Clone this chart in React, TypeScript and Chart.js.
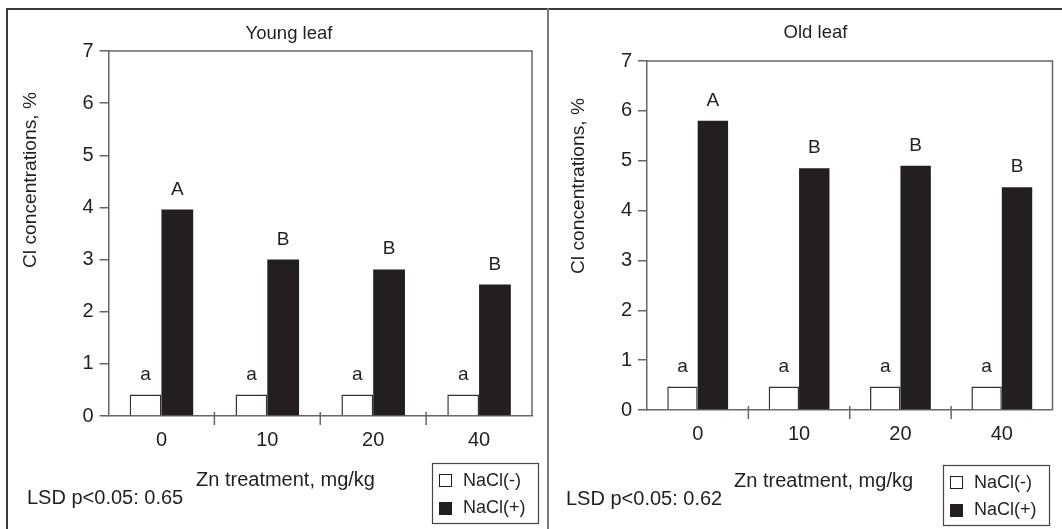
import React, { useEffect, useRef } from "react";
import { Chart, registerables } from "chart.js";

Chart.register(...registerables);

// ---------- data ----------
const categories = ["0", "10", "20", "40"];
const seriesLabels = ["NaCl(-)", "NaCl(+)"];
const youngNaclMinus = [0.41, 0.41, 0.41, 0.41];
const youngNaclPlus = [3.96, 3.0, 2.81, 2.52];
const oldNaclMinus = [0.47, 0.47, 0.47, 0.47];
const oldNaclPlus = [5.8, 4.85, 4.9, 4.47];
const youngMinusLetters = ["a", "a", "a", "a"];
const youngPlusLetters = ["A", "B", "B", "B"];
const oldMinusLetters = ["a", "a", "a", "a"];
const oldPlusLetters = ["A", "B", "B", "B"];
const yTickValues = [0, 1, 2, 3, 4, 5, 6, 7];
const panelTitles = ["Young leaf", "Old leaf"];
const lsdLabels = ["LSD p<0.05: 0.65", "LSD p<0.05: 0.62"];
const xAxisTitle = "Zn treatment, mg/kg";
const yAxisTitle = "Cl concentrations, %";

// ---------- style / layout ----------
const FONT = '"Liberation Sans", Arial, sans-serif';
const INK = "#231f20";
const AXIS = "#666666";
const X_SCALE_H = 40;

const panels = [
  {
    minus: youngNaclMinus,
    plus: youngNaclPlus,
    minusLetters: youngMinusLetters,
    plusLetters: youngPlusLetters,
    title: panelTitles[0],
    lsd: lsdLabels[0],
  },
  {
    minus: oldNaclMinus,
    plus: oldNaclPlus,
    minusLetters: oldMinusLetters,
    plusLetters: oldPlusLetters,
    title: panelTitles[1],
    lsd: lsdLabels[1],
  },
];

const layouts = [
  {
    left: 0,
    width: 548,
    padTop: 51,
    padRight: 16,
    padBottom: 113 - X_SCALE_H,
    yWidth: 108.5,
    title: [289, 39],
    xTitle: [285.5, 486],
    yTitle: [31, 180],
    lsd: [27, 504],
    legend: [432, 463],
  },
  {
    left: 548,
    width: 514,
    padTop: 61,
    padRight: 9.5,
    padBottom: 119 - X_SCALE_H,
    yWidth: 99,
    title: [267.5, 38],
    xTitle: [275.6, 487],
    yTitle: [31, 186],
    lsd: [18, 505],
    legend: [395, 465],
  },
];

const HEIGHT = 529;

function makeOverlay(i: number) {
  return {
    id: "overlay" + i,
    afterDatasetsDraw(chart: any) {
      const { ctx, chartArea: ca } = chart;
      const L = layouts[i];
      const P = panels[i];
      ctx.save();
      // plot frame (top & right)
      ctx.strokeStyle = AXIS;
      ctx.lineWidth = 1.5;
      ctx.beginPath();
      ctx.moveTo(ca.left, ca.top);
      ctx.lineTo(ca.right, ca.top);
      ctx.lineTo(ca.right, ca.bottom);
      ctx.stroke();
      // category separators on x axis
      const xs = chart.scales.x;
      for (let k = 1; k < categories.length; k++) {
        const x = (xs.getPixelForValue(k - 1) + xs.getPixelForValue(k)) / 2;
        ctx.beginPath();
        ctx.moveTo(x, ca.bottom - 4);
        ctx.lineTo(x, ca.bottom + 9);
        ctx.stroke();
      }
      // significance letters
      ctx.fillStyle = INK;
      ctx.font = `19px ${FONT}`;
      ctx.textAlign = "center";
      ctx.textBaseline = "alphabetic";
      const letterSets = [P.minusLetters, P.plusLetters];
      chart.data.datasets.forEach((_ds: any, d: number) => {
        const meta = chart.getDatasetMeta(d);
        meta.data.forEach((el: any, k: number) => {
          ctx.fillText(letterSets[d][k], el.x, el.y - 15);
        });
      });
      // panel title
      ctx.font = `18.5px ${FONT}`;
      ctx.fillText(P.title, L.title[0], L.title[1]);
      // x axis title
      ctx.font = `20px ${FONT}`;
      ctx.fillText(xAxisTitle, L.xTitle[0], L.xTitle[1]);
      // LSD
      ctx.textAlign = "left";
      ctx.fillText(P.lsd, L.lsd[0], L.lsd[1]);
      // y axis title
      ctx.save();
      ctx.translate(L.yTitle[0], L.yTitle[1]);
      ctx.rotate(-Math.PI / 2);
      ctx.textAlign = "center";
      ctx.textBaseline = "middle";
      ctx.font = `19.2px ${FONT}`;
      ctx.fillText(yAxisTitle, 0, 0);
      ctx.restore();
      // legend box
      const [bx, by] = L.legend;
      ctx.strokeStyle = "#444";
      ctx.lineWidth = 1.2;
      ctx.strokeRect(bx + 0.5, by + 0.5, 106, 60);
      ctx.font = `18px ${FONT}`;
      ctx.textAlign = "left";
      ctx.textBaseline = "alphabetic";
      const fills = ["#ffffff", INK];
      seriesLabels.forEach((lab, s) => {
        const sy = by + 11 + s * 28;
        ctx.fillStyle = fills[s];
        ctx.fillRect(bx + 7, sy, 13, 13);
        ctx.strokeStyle = INK;
        ctx.lineWidth = 1;
        ctx.strokeRect(bx + 7.5, sy + 0.5, 12, 12);
        ctx.fillStyle = INK;
        ctx.fillText(lab, bx + 31, by + 23 + s * 27);
      });
      ctx.restore();
    },
  };
}

function Panel({ index }: { index: number }) {
  const ref = useRef<HTMLCanvasElement | null>(null);
  useEffect(() => {
    const canvas = ref.current;
    if (!canvas) return;
    const L = layouts[index];
    const P = panels[index];
    const chart = new Chart(canvas, {
      type: "bar",
      data: {
        labels: categories,
        datasets: [
          {
            label: seriesLabels[0],
            data: P.minus,
            backgroundColor: "#ffffff",
            borderColor: "#333333",
            borderWidth: 1.5,
            categoryPercentage: 0.6,
            barPercentage: 1.0,
          },
          {
            label: seriesLabels[1],
            data: P.plus,
            backgroundColor: INK,
            borderColor: INK,
            borderWidth: 0,
            categoryPercentage: 0.6,
            barPercentage: 1.0,
          },
        ],
      },
      options: {
        animation: false,
        responsive: false,
        maintainAspectRatio: false,
        layout: {
          padding: { left: 0, top: L.padTop, right: L.padRight, bottom: L.padBottom },
        },
        plugins: {
          legend: { display: false },
          tooltip: { enabled: false },
          title: { display: false },
        },
        scales: {
          x: {
            type: "category",
            grid: { display: false, drawTicks: false },
            border: { display: true, color: AXIS, width: 1.5 },
            ticks: {
              color: INK,
              font: { family: FONT, size: 20 },
              padding: 12,
              maxRotation: 0,
              autoSkip: false,
            },
            afterFit: (scale: any) => {
              scale.height = X_SCALE_H;
            },
          },
          y: {
            min: 0,
            max: 7,
            grid: {
              display: true,
              drawOnChartArea: false,
              drawTicks: true,
              tickLength: 9,
              color: AXIS,
              lineWidth: 1.5,
            },
            border: { display: true, color: AXIS, width: 1.5 },
            ticks: {
              color: INK,
              font: { family: FONT, size: 20 },
              padding: 6,
            },
            afterBuildTicks: (scale: any) => {
              scale.ticks = yTickValues.map((v) => ({ value: v }));
            },
            afterFit: (scale: any) => {
              scale.width = L.yWidth;
            },
          },
        },
      },
      plugins: [makeOverlay(index)],
    } as any);
    return () => chart.destroy();
  }, [index]);
  const L = layouts[index];
  return (
    <canvas
      ref={ref}
      width={L.width}
      height={HEIGHT}
      style={{ position: "absolute", left: L.left, top: 0, width: L.width, height: HEIGHT }}
    />
  );
}

export default function App() {
  return (
    <div
      style={{
        position: "absolute",
        left: 0,
        top: 0,
        width: 1062,
        height: HEIGHT,
        background: "#ffffff",
        overflow: "hidden",
      }}
    >
      <Panel index={0} />
      <Panel index={1} />
      <div style={{ position: "absolute", left: 6, top: 8, width: 1056, height: 2, background: "#3a3a3a" }} />
      <div style={{ position: "absolute", left: 6, top: 8, width: 1.6, height: HEIGHT - 8, background: "#3a3a3a" }} />
      <div style={{ position: "absolute", left: 547, top: 8, width: 2, height: HEIGHT - 8, background: "#7a7a7a" }} />
    </div>
  );
}
